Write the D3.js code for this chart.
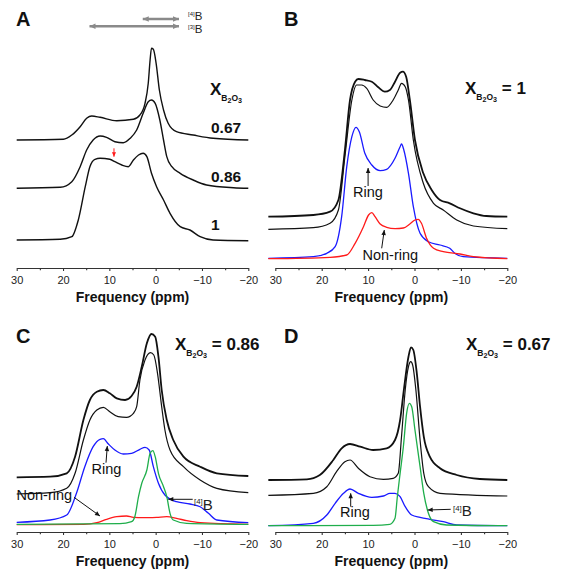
<!DOCTYPE html>
<html>
<head>
<meta charset="utf-8">
<script src="https://cdn.jsdelivr.net/npm/d3@7"></script>
<style>
  body { margin: 0; background: #fff; }
  text { font-family: "Liberation Sans", Arial, sans-serif; }
</style>
</head>
<body>
<svg id="fig" width="561" height="572"></svg>
<script>
// ---- spectra: [ppm, intensity (arb. units)] ----
// panel A: experimental spectra, stacked
const a100 = [[30,28],[20.6,28.7],[18.1,31.3],[16.7,48],[15.2,81.3],[14.2,101.3],[13.1,108.7],[12.0,109.7],[9.9,108.7],[8.8,106.3],[7.3,103],[5.9,101.3],[4.8,108],[3.7,113],[2.7,114.7],[1.9,111.3],[0.9,94.7],[-0.2,81.3],[-1.7,68],[-3.1,54.7],[-5.3,41.3],[-7.4,38],[-9.6,31.3],[-12.4,28],[-20,27.3]];
const a086 = [[30,79.7],[20.6,80.7],[18.1,86.3],[16.3,101.3],[14.9,118],[13.5,128],[12.0,132],[10.6,130.7],[8.8,126.3],[7.0,125.3],[5.5,129.7],[4.1,138],[2.7,154.7],[1.6,166.3],[0.9,168],[0.1,164.7],[-0.9,148],[-1.7,128],[-2.4,111.3],[-3.5,101.3],[-5.3,94.7],[-8.1,88],[-11.0,83],[-16.8,80.3],[-20,79.7]];
const a067 = [[30,128],[19.9,128.7],[18.1,133],[16.3,141.3],[14.9,149.7],[13.8,152],[12.0,150.7],[8.4,147.3],[4.8,148.7],[3.4,153],[2.3,164.7],[1.6,184.7],[1.2,208],[0.9,219.7],[0.5,218.7],[-0.1,204.7],[-0.8,178],[-1.7,158],[-2.7,144.7],[-4.5,136.3],[-8.1,133],[-12.4,129.7],[-20,128]];

// panel B: X = 1
const bExp = [[31.5,51.3],[21.8,53],[18.2,56.3],[16.4,68],[15.0,118],[13.9,168],[12.8,186.3],[12.1,189],[10.7,188],[9.2,186.3],[7.8,180.7],[6.4,176.3],[5.3,178],[4.2,186.3],[3.1,195.3],[2.5,196.3],[1.8,191.3],[1.0,168],[-0.1,128],[-1.9,94.7],[-3.7,78],[-5.5,68],[-7.6,64.7],[-9.8,59.7],[-12.7,54.7],[-15.5,52],[-20,51.3]];
const bFit = [[31.5,38.7],[21.8,40.3],[18.2,44.7],[16.4,58],[15.0,111.3],[13.5,168],[12.5,183],[11.4,183],[10.3,179.7],[8.9,168],[7.4,162],[6.0,160.7],[4.6,168],[3.5,178],[2.8,184.7],[2.0,181.3],[1.3,168],[0.25,128],[-1.9,84.7],[-4.1,64.7],[-6.2,58],[-9.1,48],[-12.7,42],[-20,39.3]];
const bRing = [[31.5,9.7],[21.8,11.3],[18.9,14.7],[17.1,21.3],[15.7,51.3],[14.6,101.3],[13.5,131.3],[12.6,140.7],[11.9,136.3],[10.7,114.7],[9.2,103],[7.4,97.3],[6.0,98.7],[4.2,109.7],[3.1,121.3],[2.8,124],[2.3,118],[1.3,94.7],[0.25,61.3],[-1.2,34.7],[-3.0,26.3],[-5.5,23],[-7.6,19.7],[-8.7,14.7],[-10.5,11.3],[-20,9.7]];
const bNonRing = [[31.5,9.3],[18.2,10.7],[14.6,13],[12.8,24.7],[11.0,41.3],[9.9,53],[9.2,55.3],[8.5,51.3],[7.4,44],[6.0,40.7],[4.2,39.3],[2.4,40],[1.0,44],[-0.1,48],[-0.8,48.7],[-1.5,44.7],[-2.6,29.7],[-4.1,19.7],[-6.2,16.3],[-9.8,14],[-12.7,11.3],[-20,9.3]];

// panel C: X = 0.86
const cExp = [[30,54.7],[22.8,55.3],[19.2,58.7],[17.4,75.3],[15.6,112],[14.2,132],[12.7,140.3],[11.3,142],[9.9,138.7],[8.4,133.7],[6.6,132],[5.2,136],[4.1,145.3],[3.0,165.3],[1.9,188.7],[0.9,198],[0.1,195.3],[-0.6,175.3],[-1.3,142],[-2.4,112],[-3.8,92],[-6.0,75.3],[-9.6,65.3],[-13.2,58.7],[-20,56]];
const cFit = [[30,38],[22.8,39.3],[19.2,43.7],[17.4,58.7],[15.6,92],[14.2,112],[12.7,122],[11.3,124.7],[9.9,120.3],[8.1,115.3],[6.3,114.7],[4.8,118.7],[4.1,125.3],[3.4,152],[2.3,172],[1.1,179.3],[0.4,177],[-0.4,158.7],[-1.3,125.3],[-2.0,102],[-3.1,82],[-6.0,65.3],[-9.6,52],[-13.2,43.7],[-20,39.3]];
const cRing = [[30,9.7],[22.8,12],[19.2,17],[17.1,38.7],[15.3,65.3],[13.5,85.3],[12.0,92.7],[11.3,93.3],[10.2,88],[8.8,82],[7.0,78],[5.2,78.7],[3.4,82.7],[2.3,84.7],[1.4,82],[0.5,65.3],[-0.6,48.7],[-2.0,37],[-4.5,30.3],[-7.4,28],[-9.6,25.3],[-11.4,18.7],[-13.2,12],[-20,9.3]];
const cB4 = [[30,7.7],[7.7,8.3],[5.2,10.3],[4.5,15.3],[3.7,35.3],[3.0,48.7],[1.9,62],[1.2,78.7],[0.6,81.3],[0.1,75.3],[-0.6,58.7],[-1.7,45.3],[-2.4,35.3],[-3.1,18.7],[-3.8,12],[-6.7,8.7],[-20,7.7]];
const cNonRing = [[30,7.3],[15.6,7.7],[12.7,9.3],[10.6,12.7],[8.4,15.3],[6.3,16],[4.8,14.7],[2.7,14.3],[-0.2,14.7],[-2.4,15.3],[-4.5,13.7],[-6.7,11.3],[-9.6,9.3],[-20,7.7]];

// panel D: X = 0.67
const dExp = [[31.5,52],[23.2,52.7],[20.4,57],[17.5,72],[15.7,83.7],[13.9,88],[11.7,85.3],[8.9,82],[6.0,83.7],[4.2,92],[3.1,112],[2.3,142],[1.3,175.3],[0.75,184.7],[0.25,182],[-0.5,158.7],[-1.2,125.3],[-2.0,95.3],[-3.3,75.3],[-5.5,63.7],[-9.1,57],[-14.1,53],[-20,52]];
const dFit = [[31.5,36.7],[21.8,38.7],[18.9,45.3],[16.8,60.3],[15.0,70.3],[13.9,72],[12.1,63.7],[9.6,55.3],[6.7,52.7],[4.6,53.7],[3.5,58.7],[2.8,95.3],[2.0,142],[1.3,165.3],[0.8,170.3],[0.4,167],[-0.3,142],[-1.2,92],[-2.0,58.7],[-3.0,45.3],[-5.5,38.7],[-20,36]];
const dRing = [[31.5,6.3],[21.8,8.7],[18.9,17],[17.1,28.7],[15.3,38.7],[13.9,43],[12.1,38.7],[9.2,34.7],[6.7,36],[5.3,38.7],[4.2,38.7],[3.1,35.3],[2.0,25.3],[0.6,17],[-1.2,14.7],[-3.3,12.7],[-6.2,10.3],[-9.1,7],[-20,6.3]];
const dB4 = [[31.5,6.3],[8.9,6.7],[5.3,7.7],[4.2,13.7],[3.7,35.3],[3.1,58.7],[2.4,85.3],[1.7,118.7],[1.1,128.7],[0.6,125.3],[-0.1,102],[-1.2,65.3],[-2.0,38.7],[-3.0,18.7],[-4.1,10.3],[-6.9,7],[-20,6.3]];

// axis ticks
const majorTicks = [30, 20, 10, 0, -10, -20];
const minorTicks = [25, 15, 5, -5, -15];
// chemical shift ranges shown above panel A (ppm)
const range4B = [3.0, -5.25];
const range3B = [14.5, -5.25];

const svg = d3.select("#fig");
svg.append("rect").attr("width", 561).attr("height", 572).attr("fill", "#fff");

const panels = [
  {key: "A", left: 16.7, right: 248.3, axisY: 268, letterX: 16, letterY: 26},
  {key: "B", left: 275.3, right: 507.3, axisY: 268, letterX: 284, letterY: 26},
  {key: "C", left: 16.7, right: 248.3, axisY: 532, letterX: 16, letterY: 343},
  {key: "D", left: 275.3, right: 507.3, axisY: 532, letterX: 284, letterY: 343}
];

panels.forEach(p => {
  p.x = d3.scaleLinear().domain([30, -20]).range([p.left, p.right]);
  p.y = d3.scaleLinear().domain([0, 240]).range([p.axisY, p.axisY - 240]);
  p.g = svg.append("g");

  p.line = d3.line().curve(d3.curveMonotoneX).x(d => p.x(d[0])).y(d => p.y(d[1]));

  // axes: labelled major ticks, blank minor ticks, both hanging below the line
  const major = d3.axisBottom(p.x).tickValues(majorTicks).tickSize(3).tickSizeOuter(0).tickPadding(5);
  const minor = d3.axisBottom(p.x).tickValues(minorTicks).tickSize(2.2).tickSizeOuter(0).tickFormat("");
  const gx = p.g.append("g").attr("transform", `translate(0,${p.axisY})`).call(major);
  gx.selectAll("text").attr("font-size", 11).attr("fill", "#222")
    .style("font-family", '"Liberation Sans", Arial, sans-serif');
  gx.selectAll("line, path").attr("stroke", "#333").attr("stroke-width", 1.1);
  const gm = p.g.append("g").attr("transform", `translate(0,${p.axisY})`).call(minor);
  gm.select(".domain").remove();
  gm.selectAll("line").attr("stroke", "#333").attr("stroke-width", 1.1);

  p.g.append("text")
    .attr("x", (p.left + p.right) / 2).attr("y", p.axisY + 34)
    .attr("text-anchor", "middle").attr("font-size", 14).attr("font-weight", "bold")
    .attr("fill", "#111").text("Frequency (ppm)");

  p.g.append("text")
    .attr("x", p.letterX).attr("y", p.letterY)
    .attr("font-size", 20).attr("font-weight", "bold").attr("fill", "#111").text(p.key);
});

const [pA, pB, pC, pD] = panels;

function draw(p, data, color, width) {
  p.g.append("path").datum(data).attr("d", p.line)
    .attr("fill", "none").attr("stroke", color).attr("stroke-width", width)
    .attr("stroke-linejoin", "round");
}

function arrow(g, x1, y1, x2, y2, color, width, head, both) {
  g.append("line").attr("x1", x1).attr("y1", y1).attr("x2", x2).attr("y2", y2)
    .attr("stroke", color).attr("stroke-width", width);
  const tip = (xa, ya, xb, yb) => {
    const ang = Math.atan2(yb - ya, xb - xa);
    const l = head, w = head * 0.45;
    const pts = [[xb, yb],
      [xb - l * Math.cos(ang) + w * Math.sin(ang), yb - l * Math.sin(ang) - w * Math.cos(ang)],
      [xb - l * Math.cos(ang) - w * Math.sin(ang), yb - l * Math.sin(ang) + w * Math.cos(ang)]];
    g.append("polygon").attr("points", pts.map(q => q.join(",")).join(" ")).attr("fill", color);
  };
  tip(x1, y1, x2, y2);
  if (both) tip(x2, y2, x1, y1);
}

function dataArrow(p, from, to, color, width, head) {
  arrow(p.g, p.x(from[0]), p.y(from[1]), p.x(to[0]), p.y(to[1]), color || "#111", width || 1, head || 5);
}

const BLUE = "#1a1aff", RED = "#ff1a1a", GREEN = "#1fae4b";

// ---- panel A ----
draw(pA, a100, "#111", 1.4);
draw(pA, a086, "#111", 1.4);
draw(pA, a067, "#111", 1.4);
dataArrow(pA, [9.0, 119.7], [9.0, 111.3], RED, 1, 4.5);
arrow(pA.g, pA.x(range4B[0]) + 1, 19, pA.x(range4B[1]) - 1, 19, "#8a8a8a", 2.4, 6, true);
arrow(pA.g, pA.x(range3B[0]) + 1, 26.3, pA.x(range3B[1]) - 1, 26.3, "#8a8a8a", 2.4, 6, true);

function boronLabel(g, x, y, sup, size) {
  const t = g.append("text").attr("x", x).attr("y", y).attr("font-size", size).attr("fill", "#222");
  t.append("tspan").attr("font-size", size * 0.52).attr("dy", -size * 0.34).text(`[${sup}]`);
  t.append("tspan").attr("dy", size * 0.34).text("B");
}
boronLabel(pA.g, 188, 20, 4, 11.5);
boronLabel(pA.g, 188, 33, 3, 11.5);

function xLabel(g, x, y, value, size) {
  const t = g.append("text").attr("x", x).attr("y", y).attr("font-size", size)
    .attr("font-weight", "bold").attr("fill", "#111");
  t.append("tspan").text("X");
  t.append("tspan").attr("font-size", size * 0.5).attr("dy", size * 0.38).text("B");
  t.append("tspan").attr("font-size", size * 0.42).attr("dy", size * 0.1).text("2");
  t.append("tspan").attr("font-size", size * 0.5).attr("dy", -size * 0.1).text("O");
  t.append("tspan").attr("font-size", size * 0.42).attr("dy", size * 0.1).text("3");
  if (value !== null) t.append("tspan").attr("dy", -size * 0.48).text(" = " + value);
}
xLabel(pA.g, 210, 94.5, null, 17);
const compA = ["0.67", "0.86", "1"];
const compAy = [132.5, 181.5, 230];
compA.forEach((c, i) => {
  pA.g.append("text").attr("x", 211).attr("y", compAy[i]).attr("font-size", 15.5)
    .attr("font-weight", "bold").attr("fill", "#111").text(c);
});

// ---- panel B ----
draw(pB, bExp, "#111", 1.8);
draw(pB, bFit, "#111", 1.2);
draw(pB, bRing, BLUE, 1.3);
draw(pB, bNonRing, RED, 1.3);
xLabel(pB.g, 465, 94, "1", 17);
pB.g.append("text").attr("x", 353).attr("y", 197).attr("font-size", 14.5).attr("fill", "#111").text("Ring");
dataArrow(pB, [10, 82], [10, 100]);
pB.g.append("text").attr("x", 362.5).attr("y", 259.5).attr("font-size", 14.5).attr("fill", "#111").text("Non-ring");
dataArrow(pB, [7.07, 19.7], [6.51, 38]);

// ---- panel C ----
draw(pC, cExp, "#111", 1.8);
draw(pC, cFit, "#111", 1.2);
draw(pC, cRing, BLUE, 1.3);
draw(pC, cNonRing, RED, 1.3);
draw(pC, cB4, GREEN, 1.3);
xLabel(pC.g, 175, 350, "0.86", 17);
pC.g.append("text").attr("x", 91.5).attr("y", 474).attr("font-size", 14.5).attr("fill", "#111").text("Ring");
dataArrow(pC, [10.72, 69.3], [10.44, 86]);
pC.g.append("text").attr("x", 16.5).attr("y", 500).attr("font-size", 14.5).attr("fill", "#111").text("Non-ring");
dataArrow(pC, [17.63, 34.7], [12.02, 16]);
boronLabel(pC.g, 194, 509.5, 4, 15);
dataArrow(pC, [-8.0, 32.7], [-2.73, 32.7]);

// ---- panel D ----
draw(pD, dExp, "#111", 1.8);
draw(pD, dFit, "#111", 1.2);
draw(pD, dRing, BLUE, 1.3);
draw(pD, dB4, GREEN, 1.3);
xLabel(pD.g, 466, 350, "0.67", 17);
pD.g.append("text").attr("x", 340).attr("y", 517).attr("font-size", 14.5).attr("fill", "#111").text("Ring");
dataArrow(pD, [13.75, 25.3], [13.75, 38.7]);
boronLabel(pD.g, 453, 516, 4, 15);
dataArrow(pD, [-7.8, 22.7], [-2.84, 22]);
</script>
</body>
</html>
